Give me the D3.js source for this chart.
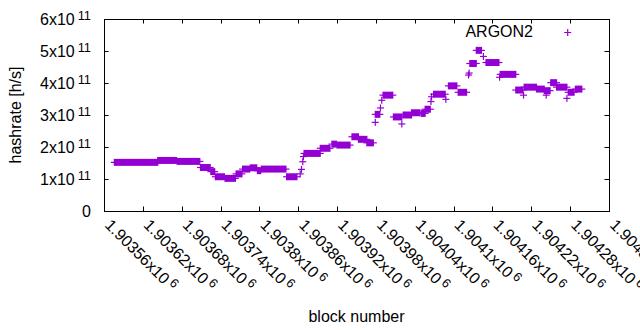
<!DOCTYPE html>
<html>
<head>
<meta charset="utf-8">
<script src="https://cdn.jsdelivr.net/npm/d3@7"></script>
<style>
  html, body { margin: 0; padding: 0; background: #fff; }
  svg { display: block; font-family: "Liberation Sans", Arial, sans-serif; }
</style>
</head>
<body>
<svg id="chart" width="640" height="330"></svg>
<script>
// runs of blocks sharing the same hashrate: first block, last block, hashrate [h/s]
const runStart = [1903576, 1903643, 1903673, 1903709, 1903725, 1903732, 1903747, 1903764, 1903774, 1903786,
  1903797, 1903803, 1903842, 1903863, 1903865, 1903867, 1903868, 1903869, 1903894, 1903912,
  1903920, 1903943, 1903953, 1903966, 1903979, 1903979, 1903987, 1903989, 1903991, 1904007,
  1904020, 1904022, 1904035, 1904050, 1904056, 1904065, 1904066, 1904069, 1904088, 1904092,
  1904107, 1904123, 1904124, 1904125, 1904135, 1904146, 1904150, 1904171, 1904172, 1904196,
  1904208, 1904209, 1904228, 1904240, 1904243, 1904250, 1904259, 1904275, 1904277, 1904288];
const runEnd = [1903643, 1903672, 1903708, 1903724, 1903731, 1903746, 1903763, 1903773, 1903785, 1903796,
  1903802, 1903841, 1903858, 1903863, 1903865, 1903867, 1903868, 1903894, 1903909, 1903919,
  1903940, 1903953, 1903966, 1903976, 1903979, 1903986, 1903987, 1903989, 1904006, 1904020,
  1904020, 1904035, 1904048, 1904056, 1904064, 1904065, 1904066, 1904087, 1904088, 1904105,
  1904120, 1904123, 1904124, 1904135, 1904143, 1904146, 1904170, 1904171, 1904196, 1904207,
  1904208, 1904228, 1904240, 1904249, 1904243, 1904259, 1904275, 1904275, 1904286, 1904298];
const runValue = [1.52e11, 1.58e11, 1.55e11, 1.36e11, 1.23e11, 1.07e11, 1.02e11, 1.16e11, 1.31e11, 1.35e11,
  1.26e11, 1.31e11, 1.07e11, 1.16e11, 1.30e11, 1.54e11, 1.70e11, 1.80e11, 1.96e11, 2.09e11,
  2.06e11, 2.32e11, 2.24e11, 2.13e11, 2.77e11, 3.02e11, 3.22e11, 3.46e11, 3.62e11, 2.94e11,
  2.72e11, 3.00e11, 3.07e11, 3.05e11, 3.18e11, 3.42e11, 3.57e11, 3.65e11, 3.49e11, 3.91e11,
  3.71e11, 4.25e11, 4.31e11, 4.61e11, 5.02e11, 4.83e11, 4.64e11, 4.18e11, 4.27e11, 3.78e11,
  3.62e11, 3.87e11, 3.81e11, 3.76e11, 3.62e11, 4.01e11, 3.87e11, 3.52e11, 3.71e11, 3.81e11];

const xTicks = [1903560, 1903620, 1903680, 1903740, 1903800, 1903860, 1903920,
  1903980, 1904040, 1904100, 1904160, 1904220, 1904280, 1904340];
const yTicks = [0, 1e11, 2e11, 3e11, 4e11, 5e11, 6e11];
const seriesName = "ARGON2";

const runs = runStart.map((s, i) => ({ s, e: runEnd[i], v: runValue[i] }));

const margin = { top: 19, right: 31, bottom: 119, left: 104 };
const W = 640, H = 330;
const width = W - margin.left - margin.right;
const height = H - margin.top - margin.bottom;
const color = "#9400d3";
const fs = 16;

const svg = d3.select("#chart");
const g = svg.append("g").attr("transform", `translate(${margin.left},${margin.top})`);

const x = d3.scaleLinear().domain([xTicks[0], xTicks[xTicks.length - 1]]).range([0, width]);
const y = d3.scaleLinear().domain([0, 6e11]).range([height, 0]);

// ticks, mirrored inside the box
const tl = 4.5;
const ticks = g.append("g").attr("stroke", "#000").attr("stroke-width", 1);
xTicks.forEach(t => {
  const px = Math.round(x(t)) + 0.5;
  ticks.append("line").attr("x1", px).attr("x2", px).attr("y1", height).attr("y2", height - tl);
  ticks.append("line").attr("x1", px).attr("x2", px).attr("y1", 0).attr("y2", tl);
});
yTicks.forEach(t => {
  const py = Math.round(y(t)) + 0.5;
  ticks.append("line").attr("x1", 0).attr("x2", tl).attr("y1", py).attr("y2", py);
  ticks.append("line").attr("x1", width).attr("x2", width - tl).attr("y1", py).attr("y2", py);
});

// y tick labels
yTicks.forEach(t => {
  const txt = g.append("text")
    .attr("x", -13).attr("y", y(t)).attr("dy", "0.36em")
    .attr("text-anchor", "end").attr("font-size", fs).attr("fill", "#000");
  if (t === 0) {
    txt.text("0");
  } else {
    txt.append("tspan").text(`${t / 1e11}x10`);
    txt.append("tspan").attr("dx", 3).attr("dy", -5).attr("font-size", fs * 0.8).text("11");
  }
});

// x tick labels, rotated (the last one runs off the right edge, as in the original)
xTicks.forEach(t => {
  const mant = String(+(t / 1e6).toFixed(5));
  const txt = g.append("text")
    .attr("transform", `translate(${x(t)},${height + 15}) rotate(45)`)
    .attr("font-size", fs).attr("fill", "#000");
  txt.append("tspan").text(`${mant}x10`);
  txt.append("tspan").attr("dx", 3).attr("dy", -5).attr("font-size", fs * 0.8).text("6");
});

// points: consecutive "+" marks merge into a band
const half = 3.5;
const pts = g.append("g");
runs.forEach(d => {
  const x1 = x(d.s), x2 = x(d.e), py = y(d.v);
  pts.append("rect")
    .attr("x", x1 - 0.6).attr("y", py - half)
    .attr("width", x2 - x1 + 1.2).attr("height", half * 2)
    .attr("fill", color);
  pts.append("line")
    .attr("x1", x1 - half).attr("x2", x2 + half)
    .attr("y1", py).attr("y2", py)
    .attr("stroke", color).attr("stroke-width", 1.2);
});

// border
g.append("rect")
  .attr("x", 0.5).attr("y", 0.5).attr("width", width).attr("height", height)
  .attr("fill", "none").attr("stroke", "#000").attr("stroke-width", 1);

// legend
g.append("text")
  .attr("x", 533 - margin.left).attr("y", 37 - margin.top)
  .attr("text-anchor", "end").attr("font-size", fs).attr("fill", "#000")
  .text(seriesName);
const lx = 567.7 - margin.left, ly = 32.5 - margin.top;
g.append("path")
  .attr("d", `M${lx - half},${ly}H${lx + half}M${lx},${ly - half}V${ly + half}`)
  .attr("stroke", color).attr("stroke-width", 1.2).attr("fill", "none");

// axis titles
svg.append("text")
  .attr("x", margin.left + width / 2).attr("y", 322)
  .attr("text-anchor", "middle").attr("font-size", fs).attr("fill", "#000")
  .text("block number");
svg.append("text")
  .attr("transform", `translate(21,${margin.top + height / 2}) rotate(-90)`)
  .attr("text-anchor", "middle").attr("font-size", fs).attr("fill", "#000")
  .text("hashrate [h/s]");
</script>
</body>
</html>
